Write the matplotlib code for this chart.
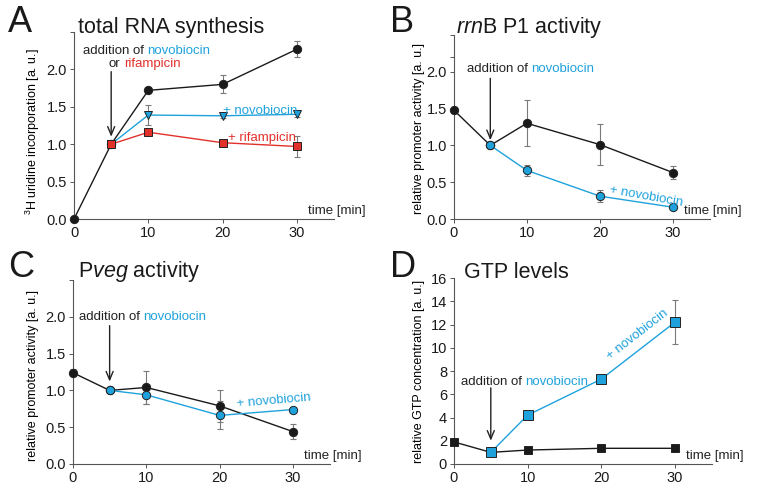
import matplotlib
matplotlib.use("Agg")
import matplotlib.pyplot as plt

plt.rcParams['font.family'] = ['Liberation Sans', 'DejaVu Sans']
plt.rcParams['mathtext.fontset'] = 'custom'
plt.rcParams['mathtext.rm'] = 'Liberation Sans'
plt.rcParams['mathtext.it'] = 'Liberation Sans:italic'

BLACK = "#1a1a1a"
BLUE = "#1fa2dc"
RED = "#e2302b"
GREY = "#7a7a7a"

# data
t_all = [0, 5, 10, 20, 30]
t_drug = [5, 10, 20, 30]

# A - total RNA synthesis
a_ctrl = [0.0, 1.0, 1.72, 1.80, 2.27]
a_ctrl_err = [0, 0, 0.03, 0.12, 0.11]
a_novo = [1.0, 1.39, 1.38, 1.40]
a_novo_err = [0, 0.13, 0.03, 0.03]
a_rif = [1.0, 1.16, 1.02, 0.97]
a_rif_err = [0, 0.03, 0.03, 0.14]

# B - rrnB P1 activity
b_ctrl = [1.48, 1.0, 1.30, 1.01, 0.63]
b_ctrl_err = [0.02, 0, 0.31, 0.28, 0.09]
b_novo = [1.0, 0.66, 0.31, 0.16]
b_novo_err = [0, 0.08, 0.08, 0.03]

# C - Pveg activity
c_ctrl = [1.24, 1.0, 1.04, 0.79, 0.44]
c_ctrl_err = [0.05, 0, 0.23, 0.22, 0.10]
c_novo = [1.0, 0.94, 0.66, 0.74]
c_novo_err = [0, 0.12, 0.19, 0.03]

# D - GTP levels
d_ctrl = [1.9, 1.0, 1.2, 1.35, 1.35]
d_ctrl_err = [0.15, 0, 0.1, 0.1, 0.1]
d_novo = [1.0, 4.2, 7.3, 12.2]
d_novo_err = [0, 0.2, 0.2, 1.87]

W, H = 764, 488
fig = plt.figure(figsize=(W / 100, H / 100), dpi=100)

axA = fig.add_axes([0.0969, 0.5512, 0.3403, 0.3832])
axB = fig.add_axes([0.5939, 0.5512, 0.3350, 0.3773])
axC = fig.add_axes([0.0955, 0.0492, 0.3360, 0.3770])
axD = fig.add_axes([0.5942, 0.0492, 0.3374, 0.3810])

FS = 9.5  # annotation font size


def series(ax, x, y, err, color, marker, ms, mfc):
    ax.errorbar(x, y, yerr=err, fmt='none', ecolor=GREY, elinewidth=0.8,
                capsize=2.5, capthick=0.8, zorder=2, clip_on=False)
    ax.plot(x, y, color=color, lw=1.0, marker=marker, ms=ms, mfc=mfc,
            mec="#222222", mew=0.7, zorder=3, clip_on=False)


def style(ax, ymax, yticks, labels):
    ax.set_xlim(0, 35)
    ax.set_ylim(0, ymax)
    for s in ['top', 'right']:
        ax.spines[s].set_visible(False)
    for s in ['left', 'bottom']:
        ax.spines[s].set_color("#555555")
        ax.spines[s].set_linewidth(0.8)
    ax.set_xticks([0, 10, 20, 30])
    ax.set_yticks(yticks)
    ax.set_yticklabels(labels)
    ax.tick_params(direction='out', length=3, width=0.7, color="#555555",
                   labelsize=10.5, pad=2, labelcolor="#1a1a1a")
    ax.text(31.5, ymax * 0.012, "time [min]", fontsize=FS, ha='left',
            va='bottom', color="#222222")


def two_color(ax, x, y, s1, s2, c2, fs=FS):
    t = ax.text(x, y, s1, color="#222222", fontsize=fs, ha='left', va='baseline')
    ax.annotate(s2, xy=(1, 0), xycoords=t, xytext=(2.6, 0),
                textcoords='offset points', ha='left', va='bottom',
                color=c2, fontsize=fs)


def arrow(ax, x, y0, y1):
    ax.annotate("", xy=(x, y1), xytext=(x, y0),
                arrowprops=dict(arrowstyle="->,head_length=0.6,head_width=0.25",
                                color="#222222", lw=1.0, shrinkA=0, shrinkB=0))


ab_ticks = [0, 0.5, 1.0, 1.5, 2.0, 2.5]
ab_labels = ["0.0", "0.5", "1.0", "1.5", "2.0", ""]

# A
series(axA, t_all, a_ctrl, a_ctrl_err, BLACK, 'o', 6, BLACK)
series(axA, t_drug, a_novo, a_novo_err, BLUE, 'v', 6, BLUE)
series(axA, t_drug, a_rif, a_rif_err, RED, 's', 6, RED)
style(axA, 2.5, ab_ticks, ab_labels)
axA.set_ylabel("$^3$H uridine incorporation [a. u.]", fontsize=9)
axA.yaxis.set_label_coords(-0.125, 0.47)
two_color(axA, 1.2, 2.21, "addition of", "novobiocin", BLUE)
two_color(axA, 4.7, 2.03, "or", "rifampicin", RED)
arrow(axA, 5, 1.97, 1.1)
axA.text(20.0, 1.41, "+ novobiocin", color=BLUE, fontsize=FS, va='baseline')
axA.text(20.7, 1.04, "+ rifampicin", color=RED, fontsize=FS, va='baseline')

# B
series(axB, t_all, b_ctrl, b_ctrl_err, BLACK, 'o', 6, BLACK)
series(axB, t_drug, b_novo, b_novo_err, BLUE, 'o', 6, BLUE)
style(axB, 2.5, [0, 0.5, 1.0, 1.5, 2.0, 2.2, 2.5],
      ["0.0", "0.5", "1.0", "1.5", "2.0", "", ""])
axB.set_ylabel("relative promoter activity [a. u.]", fontsize=9)
axB.yaxis.set_label_coords(-0.112, 0.49)
two_color(axB, 1.8, 2.0, "addition of", "novobiocin", BLUE)
arrow(axB, 5, 1.91, 1.07)
axB.text(21.3, 0.36, "+ novobiocin", color=BLUE, fontsize=FS, va='baseline',
         rotation=-10, rotation_mode='anchor')

# C
series(axC, t_all, c_ctrl, c_ctrl_err, BLACK, 'o', 6, BLACK)
series(axC, t_drug, c_novo, c_novo_err, BLUE, 'o', 6, BLUE)
style(axC, 2.5, ab_ticks, ab_labels)
axC.set_ylabel("relative promoter activity [a. u.]", fontsize=9)
axC.yaxis.set_label_coords(-0.132, 0.48)
two_color(axC, 0.8, 1.95, "addition of", "novobiocin", BLUE)
arrow(axC, 5, 1.88, 1.12)
axC.text(22.4, 0.77, "+ novobiocin", color=BLUE, fontsize=FS, va='baseline',
         rotation=5, rotation_mode='anchor')

# D
series(axD, t_all, d_ctrl, d_ctrl_err, BLACK, 's', 6, BLACK)
series(axD, t_drug, d_novo, d_novo_err, BLUE, 's', 6.5, BLUE)
style(axD, 16, list(range(0, 17, 2)), [str(v) for v in range(0, 17, 2)])
axD.set_ylabel("relative GTP concentration [a. u.]", fontsize=9)
axD.yaxis.set_label_coords(-0.112, 0.5)
two_color(axD, 0.95, 6.82, "addition of", "novobiocin", BLUE)
arrow(axD, 5, 6.55, 2.0)
axD.text(21.2, 8.95, "+ novobiocin", color=BLUE, fontsize=FS, va='baseline',
         rotation=38, rotation_mode='anchor')

# panel letters and titles (pixel positions from the top left)
def ftext(x, y, s, size, **kw):
    fig.text(x / W, 1 - y / H, s, fontsize=size, va='baseline', ha='left',
             color="#1a1a1a", **kw)

ftext(8, 32, "A", 26)
ftext(78, 33, "total RNA synthesis", 15.5)
ftext(390, 32, "B", 26)
ftext(456, 33, r"$\it{rrn}$B P1 activity", 15.5)
ftext(8, 277, "C", 26)
ftext(78, 277, r"P$\it{veg}$ activity", 15.5)
ftext(390, 277, "D", 26)
ftext(464, 278, "GTP levels", 15.5)

fig.savefig("out.png", dpi=100)
